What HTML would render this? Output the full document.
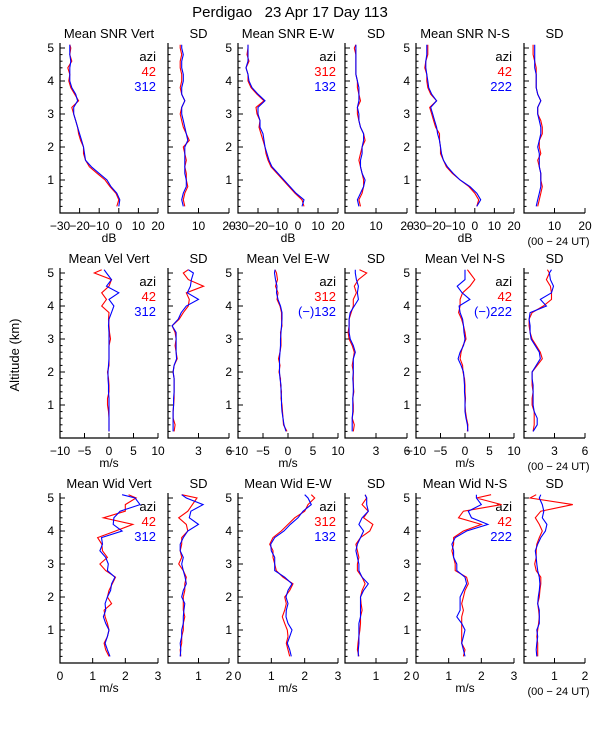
<!DOCTYPE html>
<html><head><meta charset="utf-8"><style>
html,body{margin:0;padding:0;background:#fff;}
svg{display:block;font-family:"Liberation Sans",sans-serif;}
</style></head><body>
<svg id="chart" width="600" height="750" viewBox="0 0 600 750" xmlns="http://www.w3.org/2000/svg">
<text x="290" y="17" font-size="15" text-anchor="middle" style="white-space:pre">Perdigao   23 Apr 17 Day 113</text>
<text x="0" y="0" font-size="13" text-anchor="middle" transform="translate(19,355) rotate(-90)">Altitude (km)</text>
</svg>
<script>
const alts = [0.2,0.4,0.6,0.8,1.0,1.2,1.4,1.6,1.8,2.0,2.2,2.4,2.6,2.8,3.0,3.2,3.4,3.6,3.8,4.0,4.2,4.4,4.6,4.8,5.0,5.1];
const snrVertR = [-1,0,-1.5,-4.5,-7,-11,-15,-17,-18,-18,-19.5,-20.5,-21,-22,-23,-24,-20.5,-22.5,-24.5,-25.5,-25,-26,-24,-25,-24.5,-25];
const snrVertB = [0,0.5,-1,-4,-6,-10,-14,-17,-17.5,-18,-19,-20,-21,-22,-23,-23,-21,-22,-24,-25,-25,-25,-24.5,-25,-25,-25];
const sdSnrVertR = [5.5,5,5.5,6.5,6,6,5.5,6,5.5,5,7,6,5,4.5,4,4.5,5.5,4.5,4,4.5,4.5,4,4,4.5,4,4];
const sdSnrVertB = [5,4.5,5,6,6,5.5,5.5,5.5,5.5,5.5,6.5,6,5.5,5,4.5,4.5,5.5,4.5,4.5,5,5,4.5,4.5,5,4.5,4.5];
const snrEWR = [3,2,-1.5,-4.5,-7.5,-10.5,-13.5,-15,-16,-16.5,-17.5,-18.5,-19.5,-19,-20.5,-21,-17,-20.5,-23.5,-25,-25,-26,-24.5,-25.5,-25,-25];
const snrEWB = [2,3,-1,-4,-7,-10,-13,-14.5,-15.5,-16.5,-17,-17.5,-19,-19,-20,-20,-16.5,-20,-23,-24.5,-25,-26,-25,-25,-25,-25];
const sdSnrEWR = [5,4.5,5.5,6,6,5.5,5,4.5,5,5.5,6.5,6,5,4.5,4,4,5,4.5,4,4,3.5,3.5,3.5,3.5,3,3.5];
const sdSnrEWB = [4.5,4,5,6,6.5,5.5,5,5,5.5,5.5,6,6,5,4.5,4.5,4,4.5,4.5,4.5,4,3.5,3.5,3.5,3.5,3.5,3.5];
const snrNSR = [1,2,0,-3,-7.5,-11.5,-14.5,-16,-17.5,-17.5,-18,-18,-20,-21,-22,-23,-19.5,-22.5,-24,-24.5,-24.5,-25.5,-25,-24,-24,-24];
const snrNSB = [1,3,1,-2.5,-7.5,-11,-14,-16,-17,-17.5,-18,-19,-19.5,-20.5,-21.5,-22.5,-19.5,-22,-23.5,-24,-24.5,-25,-25,-24.5,-24.5,-24.5];
const sdSnrNSR = [4.5,5,5.5,6,5.5,5.5,5,4.5,5.5,5,5,6,6,5.5,4.5,4.5,5.5,4.5,4,4,4,4,3.5,3,3,3];
const sdSnrNSB = [4,4.5,5,5.5,5.5,5.5,5,5,5,4.5,5,5.5,5.5,5,4.5,4.5,5.5,4.5,4,4,4,3.5,3.5,3.5,3.5,3.5];
const velVertR = [0,0,0,-0.1,-0.3,-0.3,0,0,-0.1,-0.3,0,0,0,0,0.3,0.1,0,-0.1,0,-1.5,-0.5,-1.5,0,0.5,-3,-1.5];
const velVertB = [0,0,0,0,0,0,-0.1,-0.1,-0.2,-0.2,-0.1,0,0,0,0,0,-0.1,0,0.5,1,0,2,-0.5,0.5,-0.5,-1];
const sdVelVertR = [0.6,0.7,0.5,0.5,0.55,0.6,0.6,0.6,0.6,0.5,0.6,0.9,0.8,0.7,0.8,0.7,0.4,1.1,1.5,2.0,2.1,1.8,3.5,2.0,1.5,2];
const sdVelVertB = [0.5,0.5,0.5,0.5,0.55,0.55,0.6,0.6,0.6,0.5,0.6,0.85,0.8,0.8,0.8,0.8,0.4,1.0,1.3,1.8,3,1.9,2.2,2.3,2.5,2];
const velEWR = [-0.2,-0.9,-1,-1.1,-1.2,-1.4,-1.3,-1.5,-1.5,-1.8,-1.6,-1.9,-1.6,-1.4,-1.4,-1.5,-1.2,-1.3,-1.3,-1.6,-2.2,-2.0,-2.5,-2.1,-2.3,-2.6];
const velEWB = [-0.4,-0.8,-1,-1.2,-1.3,-1.3,-1.4,-1.4,-1.6,-1.7,-1.7,-1.7,-1.6,-1.5,-1.5,-1.4,-1.3,-1.2,-1.2,-1.5,-2,-2.3,-2.2,-2.5,-2.7,-2.6];
const sdVelEWR = [0.8,0.9,0.7,0.8,0.8,0.75,0.85,0.8,0.8,0.8,0.7,0.8,0.9,0.7,0.4,0.3,0.4,0.4,0.6,0.8,0.8,1.1,0.9,1.3,2.1,1.4];
const sdVelEWB = [0.7,0.7,0.7,0.75,0.75,0.75,0.8,0.8,0.75,0.8,0.8,0.8,1.0,0.8,0.5,0.4,0.4,0.4,0.5,0.9,1.3,1.2,1.3,1.1,1.0,1.0];
const velNSR = [0.5,0.6,0.3,0.1,0,0.1,0,0,-0.1,-0.4,-0.5,-1.0,-0.8,-0.4,0.2,0,-0.3,-0.7,-1.3,-1,-1,-0.5,1,2,1,0.5];
const velNSB = [0.6,0.5,0.2,0,0,0,-0.1,-0.1,-0.2,-0.3,-0.8,-1.4,-1.0,-0.3,0,-0.2,-0.3,-0.5,-1,-1.2,1,-0.6,-1.6,0,0,0];
const sdVelNSR = [0.9,1.0,1.0,1.0,0.8,0.8,0.9,0.8,0.8,0.8,1.3,1.8,1.6,1.2,0.8,0.6,0.5,0.5,0.8,1.9,2.7,2.7,2.6,2.2,2.5,2.3];
const sdVelNSB = [0.9,1.3,1.3,1.0,0.9,0.9,0.9,0.9,0.8,0.8,1.2,1.6,1.5,1.1,0.7,0.6,0.6,0.5,0.6,2.2,1.6,2.7,2.9,2.6,2.5,2.7];
const widVertR = [1.5,1.4,1.35,1.45,1.5,1.45,1.38,1.35,1.58,1.45,1.5,1.6,1.7,1.4,1.22,1.45,1.3,1.28,1.15,1.7,2.23,1.33,2.0,2.0,2.33,2.1];
const widVertB = [1.53,1.45,1.38,1.45,1.5,1.4,1.33,1.4,1.38,1.45,1.55,1.58,1.68,1.45,1.48,1.4,1.22,1.3,1.27,1.9,1.63,1.65,1.84,2.45,2.3,1.9];
const sdWidVertR = [0.42,0.4,0.45,0.45,0.5,0.5,0.55,0.5,0.5,0.5,0.55,0.55,0.6,0.5,0.35,0.45,0.4,0.45,0.45,0.65,0.6,0.35,0.65,0.8,0.95,0.45];
const sdWidVertB = [0.4,0.42,0.4,0.45,0.45,0.5,0.5,0.52,0.55,0.45,0.5,0.6,0.56,0.5,0.45,0.5,0.4,0.4,0.5,0.65,1.0,0.7,0.75,1.15,0.6,0.45];
const widEWR = [1.55,1.5,1.45,1.5,1.48,1.4,1.33,1.4,1.45,1.4,1.55,1.65,1.35,1.15,1.1,1.05,1.05,0.95,1.05,1.3,1.5,1.7,2.0,2.1,2.3,2.2];
const widEWB = [1.6,1.55,1.48,1.55,1.62,1.5,1.44,1.45,1.5,1.44,1.5,1.62,1.4,1.1,1.1,1.1,1.0,0.98,1.1,1.38,1.57,1.8,1.95,2.2,2.1,2.0];
const sdWidEWR = [0.45,0.4,0.42,0.45,0.48,0.5,0.5,0.55,0.52,0.5,0.55,0.65,0.55,0.4,0.4,0.45,0.4,0.35,0.5,0.8,0.9,0.6,0.75,0.55,0.7,0.65];
const sdWidEWB = [0.43,0.43,0.45,0.45,0.45,0.45,0.5,0.5,0.5,0.5,0.6,0.75,0.55,0.45,0.45,0.4,0.35,0.4,0.5,0.6,0.45,0.55,0.75,0.7,0.7,0.65];
const widNSR = [1.45,1.5,1.4,1.4,1.4,1.4,1.4,1.45,1.4,1.45,1.5,1.6,1.55,1.2,1.2,1.15,1.1,1.15,1.15,1.45,2.0,1.3,1.45,2.62,1.85,2.3];
const widNSB = [1.5,1.45,1.4,1.45,1.5,1.4,1.25,1.35,1.35,1.35,1.45,1.55,1.5,1.25,1.25,1.15,1.15,1.1,1.2,1.55,2.2,1.7,1.6,2.0,1.85,1.85];
const sdWidNSR = [0.45,0.45,0.45,0.42,0.45,0.48,0.5,0.48,0.45,0.5,0.52,0.55,0.55,0.4,0.35,0.4,0.4,0.42,0.5,0.6,0.5,0.37,0.55,1.6,0.2,0.4];
const sdWidNSB = [0.42,0.4,0.42,0.45,0.42,0.5,0.5,0.5,0.45,0.47,0.5,0.52,0.5,0.45,0.42,0.4,0.37,0.45,0.55,0.7,0.75,0.6,0.65,0.6,0.5,0.55];

const snrTicks = [-30,-20,-10,0,10,20];
const velTicks = [-10,-5,0,5,10];
const widTicks = [0,1,2,3];
const sdSnrTicks = [10,20];
const sdVelTicks = [3,6];
const sdWidTicks = [1,2];
const altTicks = [1,2,3,4,5];

const svg = document.getElementById('chart');
const NS = 'http://www.w3.org/2000/svg';
function mk(tag, attrs, parent){
  const e = document.createElementNS(NS, tag);
  for (const k in attrs) e.setAttribute(k, attrs[k]);
  (parent||svg).appendChild(e);
  return e;
}
const rowBottoms = [213, 438, 663];
const cols = [[60,158],[168,229],[238,338],[345,407],[416,514],[524,585]];
const rows = [
  {key:'snr', unit:'dB', meanTitles:['Mean SNR Vert','Mean SNR E-W','Mean SNR N-S'], meanDom:[-30,20], meanTicks:snrTicks, sdDom:[0,20], sdTicks:sdSnrTicks,
   series:[[snrVertR,snrVertB,sdSnrVertR,sdSnrVertB],[snrEWR,snrEWB,sdSnrEWR,sdSnrEWB],[snrNSR,snrNSB,sdSnrNSR,sdSnrNSB]],
   legends:[['42','312'],['312','132'],['42','222']]},
  {key:'vel', unit:'m/s', meanTitles:['Mean Vel Vert','Mean Vel E-W','Mean Vel N-S'], meanDom:[-10,10], meanTicks:velTicks, sdDom:[0,6], sdTicks:sdVelTicks,
   series:[[velVertR,velVertB,sdVelVertR,sdVelVertB],[velEWR,velEWB,sdVelEWR,sdVelEWB],[velNSR,velNSB,sdVelNSR,sdVelNSB]],
   legends:[['42','312'],['312','(\u2212)132'],['42','(\u2212)222']]},
  {key:'wid', unit:'m/s', meanTitles:['Mean Wid Vert','Mean Wid E-W','Mean Wid N-S'], meanDom:[0,3], meanTicks:widTicks, sdDom:[0,2], sdTicks:sdWidTicks,
   series:[[widVertR,widVertB,sdWidVertR,sdWidVertB],[widEWR,widEWB,sdWidEWR,sdWidEWB],[widNSR,widNSB,sdWidNSR,sdWidNSB]],
   legends:[['42','312'],['312','132'],['42','222']]}
];
const KM = 33;
function fmt(v){ return v<0 ? '\u2212'+Math.abs(v) : String(v); }

rows.forEach((row, ri) => {
  const B = rowBottoms[ri], T = B - 170;
  const yS = a => B - a*KM;
  for (let p = 0; p < 6; p++) {
    const isMean = p % 2 === 0, grp = Math.floor(p/2);
    const [L, R] = cols[p];
    const dom = isMean ? row.meanDom : row.sdDom;
    const xS = v => L + (v - dom[0]) / (dom[1] - dom[0]) * (R - L);
    const g = mk('g', {});
    
    
    const ax = mk('path', {d:`M${L} ${T}V${B}H${R}`, fill:'none', stroke:'#000', 'stroke-width':1.2}, g);
    
    
    for (let a = 0.2; a < 5.15; a += 0.2) {
      const major = Math.abs(a - Math.round(a)) < 0.01;
      const t = mk('line', {x1:L, x2:L+(major?5:2.5), y1:yS(a), y2:yS(a), stroke:'#000', 'stroke-width':1}, g);
      
      
    }
    if (isMean) {
      altTicks.forEach(a => {
        const t = mk('text', {x:L-6, y:yS(a)+4, 'font-size':12, 'text-anchor':'end'}, g);
        t.textContent = a;
        
        
      });
    }
    const xt = isMean ? row.meanTicks : row.sdTicks;
    xt.forEach(v => {
      const tk = mk('line', {x1:xS(v), x2:xS(v), y1:B, y2:B-5, stroke:'#000', 'stroke-width':1}, g);
      
      
      const t = mk('text', {x:xS(v), y:B+17, 'font-size':12, 'text-anchor':'middle'}, g);
      t.textContent = fmt(v);
      
      
    });
    const tt = mk('text', {x:(L+R)/2, y:T-5, 'font-size':13, 'text-anchor':'middle'}, g);
    tt.textContent = isMean ? row.meanTitles[grp] : 'SD';
    
    
    if (isMean) {
      const u = mk('text', {x:(L+R)/2, y:B+29, 'font-size':12, 'text-anchor':'middle'}, g);
      u.textContent = row.unit;
      
      
      const leg = [['azi','#000'],[row.legends[grp][0],'#f00'],[row.legends[grp][1],'#00f']];
      leg.forEach((l, li) => {
        const t = mk('text', {x:R-2, y:T+18+li*15, 'font-size':13, 'text-anchor':'end', fill:l[1]}, g);
        t.textContent = l[0];
        
        
      });
    } else if (grp === 2) {
      const u = mk('text', {x:(L+R)/2+4, y:B+32, 'font-size':11, 'text-anchor':'middle'}, g);
      u.textContent = '(00 \u2212 24 UT)';
      
      
    }
    const sr = row.series[grp];
    const data = isMean ? [sr[0], sr[1]] : [sr[2], sr[3]];
    ['#f00','#00f'].forEach((c, si) => {
      const pts = data[si].map((v, i) => xS(v).toFixed(1) + ',' + yS(alts[i]).toFixed(1)).join(' ');
      const pl = mk('polyline', {points:pts, fill:'none', stroke:c, 'stroke-width':1.1}, g);
      
      
    });
  }
});
</script>
</body></html>
